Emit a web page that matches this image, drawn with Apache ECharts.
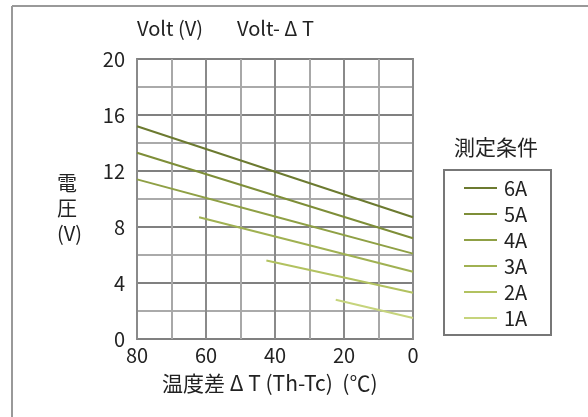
<!DOCTYPE html>
<html>
<head>
<meta charset="utf-8">
<script src="https://cdn.jsdelivr.net/npm/echarts@6/dist/echarts.min.js"></script>
<style>
html,body{margin:0;padding:0;background:#fff;}
#chart{width:588px;height:417px;}
</style>
</head>
<body>
<div id="chart"></div>
<script>
// Output voltage versus temperature difference, one line per drive current
const currents = ['6A', '5A', '4A', '3A', '2A', '1A'];
const colors = ['#6c7a30', '#7e8e38', '#8fa045', '#a0b152', '#b2c260', '#c6d47c'];
// [ΔT (°C), volt (V)] pairs
const line6A = [[80, 15.2], [40, 11.95], [0, 8.7]];
const line5A = [[80, 13.3], [40, 10.25], [0, 7.2]];
const line4A = [[80, 11.4], [40, 8.75], [0, 6.1]];
const line3A = [[62, 8.7], [30, 6.7], [0, 4.8]];
const line2A = [[42.5, 5.6], [20, 4.4], [0, 3.3]];
const line1A = [[22.4, 2.8], [0, 1.5]];
const seriesData = [line6A, line5A, line4A, line3A, line2A, line1A];
const xTicks = [0, 20, 40, 60, 80];
const yTicks = [0, 4, 8, 12, 16, 20];

const font = '"Noto Sans CJK JP", "Noto Sans", sans-serif';
const chart = echarts.init(document.getElementById('chart'), null, {renderer: 'canvas'});

chart.setOption({
  animation: false,
  grid: {left: 137, right: 175, top: 59, bottom: 78},
  xAxis: {
    type: 'value', inverse: true, min: 0, max: 80, interval: 10,
    axisLine: {show: false}, axisTick: {show: false},
    axisLabel: {
      color: '#222', fontSize: 20, fontFamily: font, margin: 6,
      formatter: v => xTicks.includes(v) ? String(v) : ''
    },
    splitLine: {show: true, lineStyle: {color: ['#8a8a8a', '#a8a8a8'], width: 2}}
  },
  yAxis: {
    type: 'value', min: 0, max: 20, interval: 2,
    axisLine: {show: false}, axisTick: {show: false},
    axisLabel: {
      color: '#222', fontSize: 20, fontFamily: font, margin: 12,
      formatter: v => yTicks.includes(v) ? String(v) : ''
    },
    splitLine: {show: true, lineStyle: {color: ['#808080', '#aaaaaa'], width: 2}}
  },
  legend: {
    data: currents,
    orient: 'vertical',
    left: 459, top: 173,
    icon: 'rect', itemWidth: 33, itemHeight: 2, itemGap: 6,
    textStyle: {color: '#222', fontSize: 20, fontFamily: font, padding: [0, 0, 0, 2]}
  },
  series: currents.map((name, i) => ({
    name, type: 'line', data: seriesData[i], symbol: 'none',
    lineStyle: {color: colors[i], width: 2}, itemStyle: {color: colors[i]}
  })),
  graphic: [
    {type: 'line', shape: {x1: 12, y1: 6, x2: 588, y2: 6}, style: {stroke: '#999', lineWidth: 2}},
    {type: 'line', shape: {x1: 12, y1: 6, x2: 12, y2: 417}, style: {stroke: '#999', lineWidth: 2}},
    {type: 'rect', shape: {x: 137, y: 59, width: 276, height: 280}, style: {fill: 'none', stroke: '#888', lineWidth: 2}},
    {type: 'rect', shape: {x: 444, y: 170, width: 107, height: 165}, style: {fill: 'none', stroke: '#777', lineWidth: 2}},
    {type: 'text', left: 137, top: 18, style: {text: 'Volt (V)', font: '20px ' + font, fill: '#222'}},
    {type: 'text', left: 237, top: 18, style: {text: 'Volt- Δ T', font: '20px ' + font, fill: '#222'}},
    {type: 'text', left: 454, top: 137, style: {text: '測定条件', font: '21px ' + font, fill: '#222'}},
    {type: 'text', left: 57, top: 171, style: {text: '電\n圧\n(V)', font: '20px ' + font, fill: '#222', align: 'center', lineHeight: 25}},
    {type: 'text', left: 162, top: 373, style: {text: '温度差 Δ T (Th-Tc)  (℃)', font: '21px ' + font, fill: '#222'}}
  ]
});
</script>
</body>
</html>
